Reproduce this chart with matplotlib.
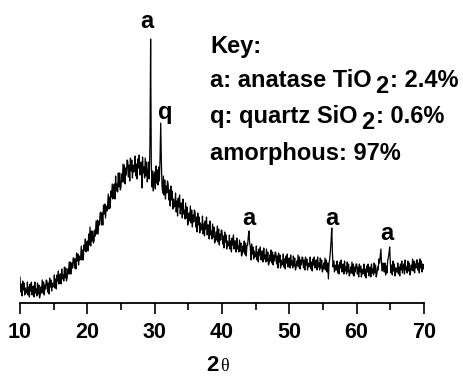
import matplotlib
matplotlib.use("Agg")
import matplotlib.pyplot as plt
import numpy as np
from matplotlib.ticker import MultipleLocator

# XRD scan: 10-70 deg 2theta, 0.1 deg step, intensity (a.u.)
SCAN_START = 10.0
SCAN_STEP = 0.1
intensity = [
    26, 11, 19, 7, 22, 13, 20, 8, 15, 10,               # 10
    11, 21, 8, 16, 6, 19, 12, 21, 8, 16,                # 11
    17, 6, 21, 10, 14, 7, 20, 9, 18, 5,                 # 12
    8, 16, 10, 23, 10, 21, 8, 18, 14, 23,               # 13
    22, 11, 20, 9, 25, 16, 23, 12, 20, 16,              # 14
    17, 28, 15, 24, 14, 28, 22, 32, 19, 28,             # 15
    29, 19, 34, 24, 28, 22, 36, 25, 35, 22,             # 16
    25, 34, 29, 41, 29, 41, 29, 40, 35, 45,             # 17
    45, 35, 44, 34, 50, 42, 49, 38, 47, 43,             # 18
    45, 57, 43, 53, 43, 58, 53, 64, 51, 60,             # 19
    62, 52, 69, 58, 76, 57, 72, 62, 72, 60,             # 20
    62, 73, 67, 82, 69, 83, 69, 82, 78, 90,             # 21
    91, 78, 90, 78, 98, 89, 99, 85, 97, 92,             # 22
    95, 109, 94, 106, 95, 112, 106, 119, 104, 115,      # 23
    119, 104, 127, 112, 119, 111, 130, 116, 130, 113,   # 24
    116, 129, 121, 139, 121, 138, 119, 135, 128, 143,   # 25
    142, 126, 138, 122, 145, 132, 143, 125, 138, 131,   # 26
    132, 147, 127, 139, 124, 144, 135, 148, 128, 140,   # 27
    141, 115, 146, 130, 136, 125, 145, 127, 141, 121,   # 28
    128, 141, 124, 160, 264, 140, 116, 132, 112, 127,   # 29
    131, 114, 137, 120, 133, 118, 136, 122, 145, 180,   # 30
    140, 116, 110, 127, 108, 123, 104, 117, 110, 122,   # 31
    119, 103, 113, 97, 117, 103, 112, 94, 104, 96,      # 32
    97, 110, 91, 102, 87, 105, 96, 108, 89, 100,        # 33
    100, 85, 104, 89, 93, 84, 100, 85, 96, 78,          # 34
    80, 90, 82, 97, 80, 93, 76, 88, 81, 93,             # 35
    91, 76, 86, 71, 90, 78, 86, 70, 80, 73,             # 36
    74, 87, 69, 79, 67, 82, 74, 86, 68, 78,             # 37
    78, 64, 82, 68, 72, 64, 79, 66, 76, 60,             # 38
    62, 71, 63, 77, 61, 74, 58, 69, 63, 73,             # 39
    72, 59, 67, 55, 71, 61, 68, 54, 62, 57,             # 40
    58, 68, 54, 62, 51, 65, 58, 68, 54, 62,             # 41
    62, 51, 65, 54, 57, 51, 63, 52, 60, 47,             # 42
    49, 57, 51, 62, 49, 60, 47, 57, 58, 66,             # 43
    72, 60, 56, 43, 59, 49, 56, 44, 52, 46,             # 44
    47, 57, 43, 51, 41, 54, 48, 56, 43, 51,             # 45
    52, 41, 55, 44, 48, 41, 54, 42, 51, 38,             # 46
    40, 48, 42, 53, 40, 51, 38, 48, 42, 51,             # 47
    50, 39, 47, 35, 50, 41, 48, 35, 43, 38,             # 48
    39, 49, 36, 44, 34, 47, 40, 49, 36, 44,             # 49
    45, 35, 48, 38, 42, 35, 47, 37, 45, 33,             # 50
    35, 42, 37, 48, 36, 46, 34, 43, 38, 46,             # 51
    45, 35, 43, 33, 46, 38, 44, 33, 40, 36,             # 52
    37, 46, 34, 41, 32, 44, 38, 46, 35, 42,             # 53
    43, 33, 46, 36, 40, 33, 45, 35, 43, 31,             # 54
    33, 40, 34, 45, 33, 43, 31, 40, 24, 40,             # 55
    44, 52, 62, 75, 50, 36, 42, 31, 38, 33,             # 56
    33, 42, 30, 38, 29, 41, 35, 43, 31, 38,             # 57
    39, 29, 42, 32, 36, 29, 41, 31, 39, 27,             # 58
    29, 36, 30, 41, 29, 39, 27, 36, 31, 39,             # 59
    39, 29, 36, 26, 39, 31, 37, 26, 34, 29,             # 60
    30, 39, 27, 34, 25, 37, 31, 39, 27, 35,             # 61
    36, 26, 39, 30, 34, 28, 40, 30, 38, 26,             # 62
    29, 36, 33, 44, 40, 47, 54, 38, 32, 40,             # 63
    35, 31, 40, 28, 37, 30, 42, 45, 50, 56,             # 64
    40, 30, 38, 28, 42, 32, 39, 27, 35, 31,             # 65
    31, 40, 29, 36, 27, 39, 33, 42, 30, 37,             # 66
    39, 29, 43, 33, 36, 30, 42, 32, 40, 28,             # 67
    31, 38, 33, 44, 32, 42, 30, 39, 35, 43,             # 68
    43, 33, 40, 30, 44, 35, 42, 31, 39, 34,             # 69
    38,                                                 # 70
]

peak_labels = ["a", "q", "a", "a", "a"]
peak_label_pos = [28.9, 31.5, 44.0, 56.3, 64.5]
peak_label_height = [275, 184, 78, 78, 63]

key_lines = [
    ("Key:", None, None),
    ("a: anatase TiO", "2", ": 2.4%"),
    ("q: quartz SiO", "2", ": 0.6%"),
    ("amorphous: 97%", None, None),
]
key_baselines_px = [53, 87, 123, 160]

W, H = 463, 377
FONT = "Liberation Sans"
TXT = 17

two_theta = SCAN_START + SCAN_STEP * np.arange(len(intensity))

fig = plt.figure(figsize=(W / 100, H / 100), dpi=100)
ax = fig.add_axes([20 / W, 74 / H, 404 / W, 303 / H])
ax.plot(two_theta, intensity, color="black", lw=0.9)
ax.set_xlim(10, 70)
ax.set_ylim(0, 303)

for side in ("left", "right", "top"):
    ax.spines[side].set_visible(False)
ax.spines["bottom"].set_linewidth(1.3)
ax.set_yticks([])
ax.xaxis.set_major_locator(MultipleLocator(10))
ax.xaxis.set_minor_locator(MultipleLocator(5))
ax.tick_params(axis="x", which="major", direction="out", length=8, width=1.2, pad=6)
ax.tick_params(axis="x", which="minor", direction="out", length=5, width=1.2)
for lbl in ax.get_xticklabels():
    lbl.set_fontfamily(FONT)
    lbl.set_fontweight("bold")
    lbl.set_fontsize(15.5)

for txt, xp, yp in zip(peak_labels, peak_label_pos, peak_label_height):
    ax.text(xp, yp, txt, ha="center", va="baseline", fontsize=TXT,
            fontweight="bold", fontfamily=FONT)

# x label: bold "2" followed by a serif theta
fig.text(219 / W, 1 - 371 / H, "2", ha="right", va="baseline", fontsize=16,
         fontweight="bold", fontfamily=FONT)
fig.text(220 / W, 1 - 371 / H, "\u03b8", ha="left", va="baseline", fontsize=13,
         fontfamily="Liberation Serif")

# key block, with lowered full-size "2" for the formulas
fig.canvas.draw()
renderer = fig.canvas.get_renderer()
for (main, sub, rest), base in zip(key_lines, key_baselines_px):
    t = fig.text(210 / W, 1 - base / H, main, ha="left", va="baseline",
                 fontsize=TXT, fontweight="bold", fontfamily=FONT)
    if sub is None:
        continue
    x_end = t.get_window_extent(renderer).x1
    s = fig.text((x_end + 4) / W, 1 - (base + 6) / H, sub, ha="left", va="baseline",
                 fontsize=TXT, fontweight="bold", fontfamily=FONT)
    x_end = s.get_window_extent(renderer).x1
    fig.text((x_end + 1) / W, 1 - base / H, rest, ha="left", va="baseline",
             fontsize=TXT, fontweight="bold", fontfamily=FONT)

fig.savefig("out.png", dpi=100)
